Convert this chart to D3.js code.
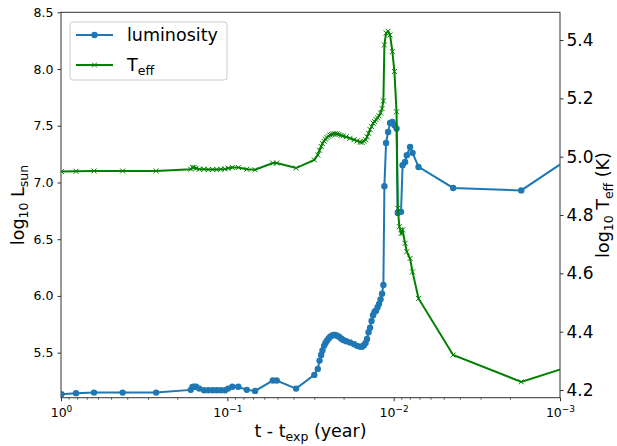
<!DOCTYPE html>
<html>
<head>
<meta charset="utf-8">
<script src="https://cdn.jsdelivr.net/npm/d3@7"></script>
<style>
  body { margin: 0; background: #fff; }
  text { font-family: "DejaVu Sans", sans-serif; fill: #000; }
</style>
</head>
<body>
<svg width="617" height="446"></svg>
<script>
// time since explosion (year)
let tYear = [0.995, 0.812, 0.633, 0.426, 0.268, 0.166, 0.162, 0.1586, 0.1543, 0.1474,
  0.1380, 0.1301, 0.1224, 0.1158, 0.1096, 0.1032, 0.0990, 0.0933, 0.0859, 0.0764,
  0.0681, 0.0533, 0.0505, 0.0386, 0.0300, 0.0286, 0.0279, 0.0273, 0.0268, 0.0262,
  0.0257, 0.0252, 0.0246, 0.0241, 0.0236, 0.0231, 0.0225, 0.0219, 0.0213, 0.0207,
  0.0201, 0.0193, 0.0183, 0.0173, 0.0166, 0.0159, 0.0155, 0.0151, 0.01476, 0.01445,
  0.01416, 0.01386, 0.01358, 0.01330, 0.01303, 0.01276, 0.01250, 0.01224, 0.01199, 0.01174,
  0.01153, 0.01137, 0.01111, 0.01080, 0.01051, 0.01018, 0.00990, 0.00961, 0.00945, 0.00924,
  0.00903, 0.00884, 0.00854, 0.00834, 0.00797, 0.00770, 0.00709, 0.00439, 0.00171, 0.00076];

// log10 L/Lsun
let logL = [5.134, 5.143, 5.148, 5.148, 5.148, 5.172, 5.198, 5.200, 5.200, 5.183,
  5.169, 5.169, 5.169, 5.169, 5.169, 5.169, 5.183, 5.200, 5.200, 5.172,
  5.163, 5.254, 5.254, 5.183, 5.304, 5.357, 5.430, 5.480, 5.520, 5.560,
  5.585, 5.605, 5.625, 5.640, 5.648, 5.655, 5.655, 5.650, 5.640, 5.625,
  5.612, 5.600, 5.590, 5.575, 5.560, 5.553, 5.553, 5.565, 5.585, 5.620,
  5.680, 5.720, 5.780, 5.830, 5.860, 5.870, 5.900, 5.930, 5.970, 6.020,
  6.096, 6.967, 7.349, 7.445, 7.525, 7.534, 7.505, 7.475, 6.732, 6.739,
  6.741, 7.152, 7.181, 7.240, 7.313, 7.261, 7.137, 6.952, 6.930, 7.275];

// log10 Teff (K)
let logTeff = [4.949, 4.950, 4.951, 4.951, 4.951, 4.957, 4.963, 4.963, 4.960, 4.957,
  4.957, 4.956, 4.956, 4.956, 4.957, 4.958, 4.960, 4.963, 4.963, 4.957,
  4.955, 4.978, 4.978, 4.961, 4.989, 5.006, 5.022, 5.035, 5.045, 5.053,
  5.060, 5.066, 5.070, 5.074, 5.076, 5.078, 5.079, 5.078, 5.076, 5.073,
  5.071, 5.068, 5.063, 5.058, 5.054, 5.050, 5.049, 5.053, 5.058, 5.068,
  5.080, 5.093, 5.103, 5.115, 5.120, 5.127, 5.133, 5.140, 5.150, 5.165,
  5.191, 5.383, 5.424, 5.430, 5.417, 5.360, 5.292, 5.154, 4.823, 4.760,
  4.737, 4.749, 4.703, 4.674, 4.651, 4.605, 4.514, 4.320, 4.228, 4.292];

let xTicks = [1, 0.1, 0.01, 0.001];
let xTickExp = ['0', '\u22121', '\u22122', '\u22123'];
let lTicks = [5.5, 6.0, 6.5, 7.0, 7.5, 8.0, 8.5];
let tTicks = [4.2, 4.4, 4.6, 4.8, 5.0, 5.2, 5.4];

let lumData = tYear.map((t, i) => ({t: t, v: logL[i]}));
let teffData = tYear.map((t, i) => ({t: t, v: logTeff[i]}));

let svg = d3.select('svg');
let margin = {top: 12.3, right: 57, bottom: 48.3, left: 61},
  width = +svg.attr('width') - margin.left - margin.right,
  height = +svg.attr('height') - margin.top - margin.bottom;

let xScale = d3.scaleLog().domain([1, 0.001]).range([0, width]);
let yLScale = d3.scaleLinear().domain([5.103, 8.5]).range([height, 0]);
let yTScale = d3.scaleLinear().domain([4.1736, 5.495]).range([height, 0]);

let g = svg.append('g')
  .attr('transform', `translate(${margin.left},${margin.top})`);

g.append('clipPath').attr('id', 'plot-clip')
  .append('rect').attr('width', width).attr('height', height);

// x axis: major + minor ticks
let minor = xScale.ticks().filter(d => Math.abs(Math.log10(d) - Math.round(Math.log10(d))) > 1e-6);
g.append('g')
  .attr('transform', `translate(0,${height})`)
  .call(d3.axisBottom(xScale).tickValues(minor).tickFormat('').tickSize(2))
  .call(a => a.select('.domain').remove())
  .selectAll('line').attr('stroke', '#333').attr('stroke-width', 0.8);

let xAxis = g.append('g')
  .attr('transform', `translate(0,${height})`)
  .call(d3.axisBottom(xScale).tickValues(xTicks).tickFormat('').tickSize(3.5));
xAxis.select('.domain').remove();
xAxis.selectAll('line').attr('stroke', '#333');
xAxis.selectAll('.tick').each(function(d, i) {
  let txt = d3.select(this).append('text')
    .attr('y', 19.5)
    .attr('text-anchor', 'middle')
    .attr('font-size', 12.5)
    .attr('fill', '#000');
  txt.append('tspan').text('10');
  txt.append('tspan').attr('dy', -5).attr('font-size', 9).text(xTickExp[i]);
});

// left axis
let yLAxis = g.append('g')
  .call(d3.axisLeft(yLScale).tickValues(lTicks).tickFormat(d3.format('.1f')).tickSize(3.5).tickPadding(4));
yLAxis.select('.domain').remove();
yLAxis.selectAll('line').attr('stroke', '#333');
yLAxis.selectAll('text').attr('font-size', 12.5).attr('font-family', '"DejaVu Sans", sans-serif').attr('fill', '#000');

// right axis
let yTAxis = g.append('g')
  .attr('transform', `translate(${width},0)`)
  .call(d3.axisRight(yTScale).tickValues(tTicks).tickFormat(d3.format('.1f')).tickSize(3.5).tickPadding(3));
yTAxis.select('.domain').remove();
yTAxis.selectAll('line').attr('stroke', '#333');
yTAxis.selectAll('text').attr('font-size', 17).attr('font-family', '"DejaVu Sans", sans-serif').attr('fill', '#000');

// frame
g.append('rect')
  .attr('width', width).attr('height', height)
  .attr('fill', 'none').attr('stroke', '#333').attr('stroke-width', 1);

// luminosity
let lineL = d3.line().x(d => xScale(d.t)).y(d => yLScale(d.v));
let lumG = g.append('g').attr('clip-path', 'url(#plot-clip)');
lumG.append('path').datum(lumData)
  .attr('d', lineL).attr('fill', 'none').attr('stroke', '#1f77b4').attr('stroke-width', 2);
lumG.selectAll('circle').data(lumData).enter().append('circle')
  .attr('cx', d => xScale(d.t)).attr('cy', d => yLScale(d.v)).attr('r', 3.2)
  .attr('fill', '#1f77b4');

// Teff
let lineT = d3.line().x(d => xScale(d.t)).y(d => yTScale(d.v));
let teffG = g.append('g').attr('clip-path', 'url(#plot-clip)');
teffG.append('path').datum(teffData)
  .attr('d', lineT).attr('fill', 'none').attr('stroke', 'green').attr('stroke-width', 2);
teffG.selectAll('path.mk').data(teffData).enter().append('path')
  .attr('class', 'mk')
  .attr('transform', d => `translate(${xScale(d.t)},${yTScale(d.v)})`)
  .attr('d', 'M-2.5,-2.5L2.5,2.5M-2.5,2.5L2.5,-2.5')
  .attr('stroke', 'green').attr('stroke-width', 1);

// axis labels
let lx = svg.append('text')
  .attr('transform', `translate(24,${margin.top + height / 2}) rotate(-90)`)
  .attr('text-anchor', 'middle').attr('font-size', 17.5);
lx.append('tspan').text('log');
lx.append('tspan').attr('font-size', 12.5).attr('dy', 4).text('10');
lx.append('tspan').attr('dy', -4).text(' L');
lx.append('tspan').attr('font-size', 12.5).attr('dy', 4).text('sun');

let rx = svg.append('text')
  .attr('transform', `translate(609,${margin.top + height / 2}) rotate(-90)`)
  .attr('text-anchor', 'middle').attr('font-size', 17.5);
rx.append('tspan').text('log');
rx.append('tspan').attr('font-size', 12.5).attr('dy', 3.5).text('10');
rx.append('tspan').attr('dy', -3.5).text(' T');
rx.append('tspan').attr('font-size', 12.5).attr('dy', 3.5).text('eff');
rx.append('tspan').attr('dy', -3.5).text(' (K)');

let bx = svg.append('text')
  .attr('x', margin.left + width / 2).attr('y', 437)
  .attr('text-anchor', 'middle').attr('font-size', 17.5);
bx.append('tspan').text('t - t');
bx.append('tspan').attr('font-size', 12.5).attr('dy', 4).text('exp');
bx.append('tspan').attr('dy', -4).text(' (year)');

// legend
let leg = svg.append('g').attr('transform', 'translate(70,22)');
leg.append('rect').attr('width', 157).attr('height', 58).attr('rx', 3)
  .attr('fill', '#fff').attr('fill-opacity', 0.8).attr('stroke', '#ccc');
leg.append('line').attr('x1', 6).attr('x2', 43).attr('y1', 13).attr('y2', 13)
  .attr('stroke', '#1f77b4').attr('stroke-width', 2);
leg.append('circle').attr('cx', 24.5).attr('cy', 13).attr('r', 3.2).attr('fill', '#1f77b4');
leg.append('line').attr('x1', 6).attr('x2', 43).attr('y1', 43).attr('y2', 43)
  .attr('stroke', 'green').attr('stroke-width', 2);
leg.append('path').attr('transform', 'translate(24.5,43)')
  .attr('d', 'M-2.5,-2.5L2.5,2.5M-2.5,2.5L2.5,-2.5').attr('stroke', 'green');
leg.append('text').attr('x', 57).attr('y', 19).attr('font-size', 17.5).text('luminosity');
let lt = leg.append('text').attr('x', 57).attr('y', 49).attr('font-size', 17.5);
lt.append('tspan').text('T');
lt.append('tspan').attr('font-size', 12.5).attr('dy', 4).text('eff');
</script>
</body>
</html>
